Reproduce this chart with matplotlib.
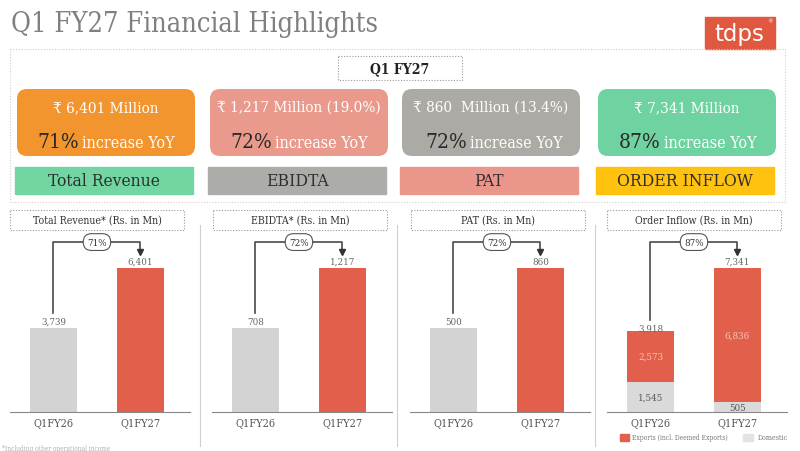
import matplotlib.pyplot as plt
from matplotlib.patches import FancyBboxPatch, Rectangle

periods = ['Q1FY26', 'Q1FY27']
revenue = [3739, 6401]
ebitda = [708, 1217]
pat = [500, 860]
order_domestic = [1545, 505]
order_exports = [2573, 6836]
order_total = [3918, 7341]

growth = ['71%', '72%', '72%', '87%']
headline = ['₹ 6,401 Million', '₹ 1,217 Million (19.0%)',
            '₹ 860  Million (13.4%)', '₹ 7,341 Million']
metric_names = ['Total Revenue', 'EBIDTA', 'PAT', 'ORDER INFLOW']
panel_titles = ['Total Revenue* (Rs. in Mn)', 'EBIDTA* (Rs. in Mn)',
                'PAT (Rs. in Mn)', 'Order Inflow (Rs. in Mn)']

FONT = dict(family=['DejaVu Serif', 'DejaVu Sans'], stretch='condensed')
RED = '#e2604b'
GREY_BAR = '#d3d3d3'
card_colors = ['#f3952f', '#ea9a8c', '#abaaa5', '#6fd3a1']
band_colors = ['#72d6a3', '#acaca8', '#ea968a', '#ffc20e']


def fmt(v):
    return f'{v:,}'


fig = plt.figure(figsize=(8, 4.52), dpi=100)
fig.patch.set_facecolor('white')

# overlay in pixel coords for the slide decorations
ov = fig.add_axes([0, 0, 1, 1])
ov.set_xlim(0, 800)
ov.set_ylim(452, 0)
ov.axis('off')

ov.text(11, 24, 'Q1 FY27 Financial Highlights', fontsize=19.5, color='#808080',
        va='center', ha='left', **FONT)

# logo
ov.add_patch(Rectangle((705, 18), 70, 32, color='#e0583f'))
ov.text(739, 34, 'tdps', fontsize=16.5, color='white', ha='center', va='center',
        family='DejaVu Sans', weight='medium')
ov.text(770, 22, '®', fontsize=4, color='white', ha='center', va='center')

# dotted frame around highlights
ov.add_patch(Rectangle((10, 50), 775, 153, fill=False, ec='#cfcfcf', lw=0.8, ls=(0, (1, 1.5))))
ov.add_patch(Rectangle((338, 57), 124, 24, fill=False, ec='#9a9a9a', lw=0.8, ls=(0, (1, 1.5))))
ov.text(400, 69.5, 'Q1 FY27', fontsize=10, color='#222', ha='center', va='center',
        weight='bold', **FONT)

card_x = [17, 210, 402, 598]
split_x = [79, 272, 467, 661]
for i in range(4):
    x = card_x[i]
    ov.add_patch(FancyBboxPatch((x, 90), 178, 67, boxstyle='round,pad=0,rounding_size=10',
                                fc=card_colors[i], ec='none'))
    ov.text(x + 89, 108, headline[i], fontsize=11, color='white', ha='center', va='center',
            **FONT)
    ov.text(split_x[i], 143, growth[i], fontsize=15, color='#2a2a2a', ha='right', va='center',
            **FONT)
    ov.text(split_x[i] + 3, 144, 'increase YoY', fontsize=11.5, color='white', ha='left',
            va='center', **FONT)
    ov.add_patch(Rectangle((x - 2, 168), 178, 27, color=band_colors[i]))
    ov.text(x + 87, 182, metric_names[i], fontsize=12.5, color='#2e2e2e', ha='center',
            va='center', **FONT)

# panel headers and separators
head_x = [10, 213, 411, 607]
for i in range(4):
    ov.add_patch(Rectangle((head_x[i], 211), 174, 20, fill=False, ec='#9a9a9a', lw=0.8,
                           ls=(0, (1, 1.5))))
    ov.text(head_x[i] + 87, 221, panel_titles[i], fontsize=7.6, color='#333', ha='center',
            va='center', **FONT)
for sx in [200, 397, 595]:
    ov.plot([sx, sx], [226, 447], color='#d0d0d0', lw=0.8)

ov.text(2, 449, '*Including other operational income', fontsize=4.8, color='#b0b0b0',
        ha='left', va='center', **FONT)

# legend for order inflow
ov.add_patch(Rectangle((620, 435), 9, 7, color=RED))
ov.text(632, 438.5, 'Exports (incl. Deemed Exports)', fontsize=4.9, color='#777', va='center',
        **FONT)
ov.add_patch(Rectangle((743, 435), 10, 7, color='#e3e3e3'))
ov.text(758, 438.5, 'Domestic', fontsize=5, color='#777', va='center', **FONT)


def panel(left, values, stacked=None):
    ax = fig.add_axes([left / 800, (452 - 413) / 452, 180 / 800, 180 / 452])
    ax.patch.set_alpha(0)
    m = max(values)
    ax.set_ylim(0, m * 1.25)
    ax.set_xlim(-0.5, 1.57)
    x = [0, 1]
    if stacked is None:
        ax.bar(x, values, width=0.55, color=[GREY_BAR, RED])
    else:
        dom, exp = stacked
        ax.bar(x, dom, width=0.55, color='#dadada')
        ax.bar(x, exp, width=0.55, bottom=dom, color=RED)
        for xi in x:
            ax.text(xi, dom[xi] + exp[xi] / 2, fmt(exp[xi]), ha='center', va='center',
                    fontsize=7, color='#f6c4b8', **FONT)
            ax.text(xi, dom[xi] / 2, fmt(dom[xi]), ha='center', va='center', fontsize=7,
                    color='#555', **FONT)
    for xi, v in zip(x, values):
        ax.text(xi, v + m * 0.015, fmt(v), ha='center', va='bottom', fontsize=7,
                color='#666', **FONT)
    ystart = values[0] + m * 0.105
    ytop = m * 1.18
    yend = m * 1.11
    ax.plot([0, 0, 1, 1], [ystart, ytop, ytop, yend], color='#4a4a4a', lw=1.2, clip_on=False)
    ax.plot(1, yend, marker='v', ms=4, color='#333', clip_on=False)
    pct = f'{round((values[1] / values[0] - 1) * 100)}%'
    ax.text(0.5, ytop, pct, ha='center', va='center', fontsize=7, color='#333',
            bbox=dict(boxstyle='round,pad=0.4,rounding_size=0.85', fc='white', ec='#555', lw=0.8),
            **FONT)
    for s in ['top', 'right', 'left']:
        ax.spines[s].set_visible(False)
    ax.spines['bottom'].set_color('#888')
    ax.set_yticks([])
    ax.set_xticks(x)
    ax.set_xticklabels(periods, fontsize=7.8, color='#555', **FONT)
    ax.tick_params(axis='x', length=0, pad=4)
    return ax


panel(10, revenue)
panel(212, ebitda)
panel(410, pat)
panel(607, order_total, stacked=(order_domestic, order_exports))

fig.savefig('out.png', dpi=100)
